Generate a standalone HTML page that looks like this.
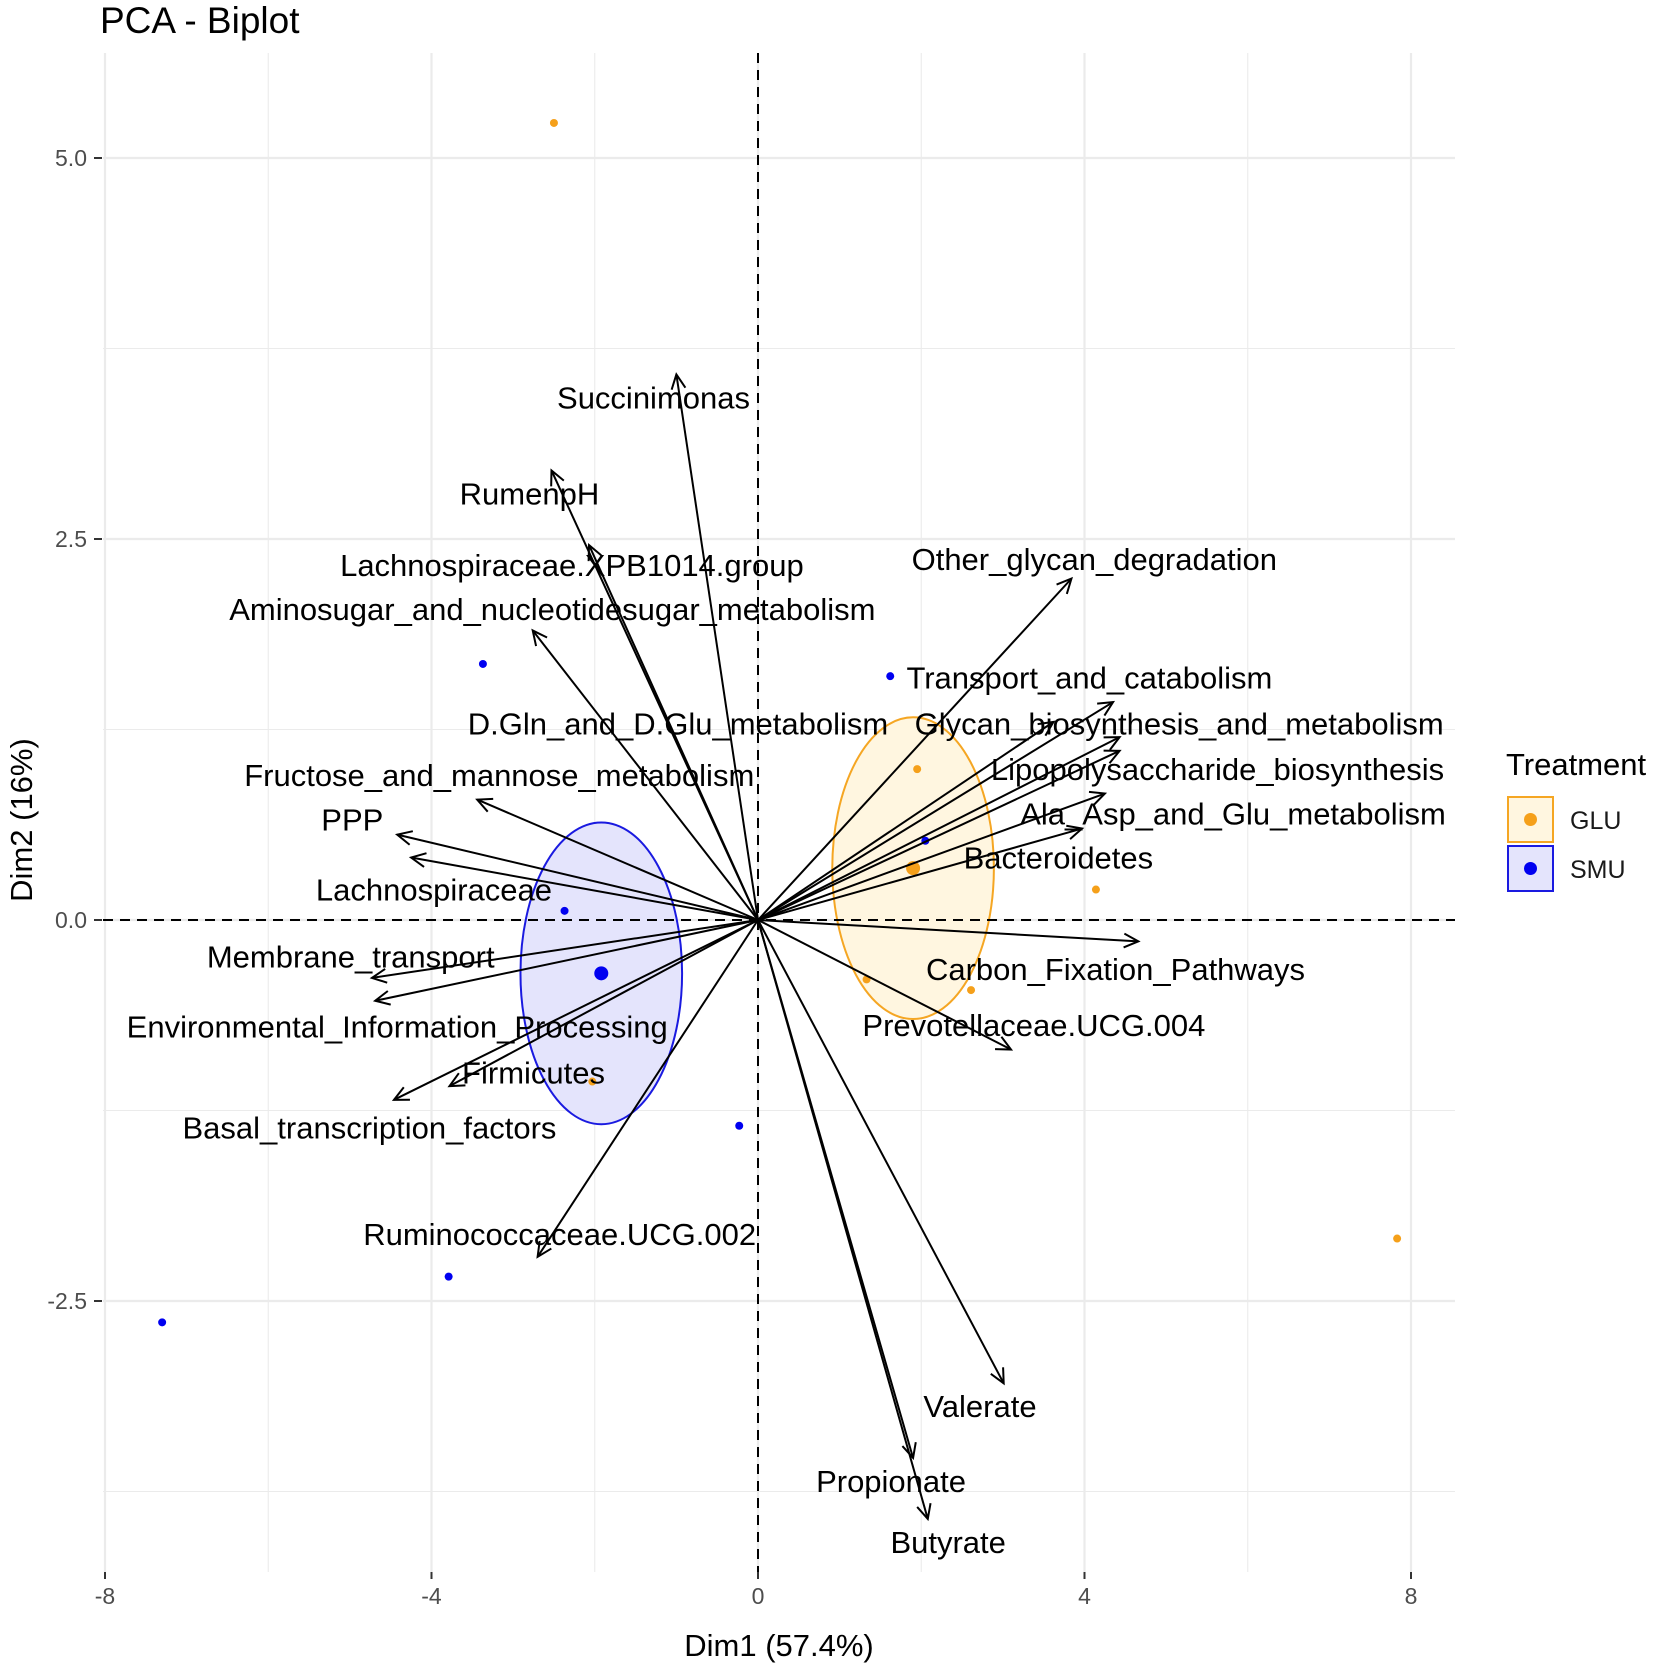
<!DOCTYPE html>
<html><head><meta charset="utf-8"><style>
html,body{margin:0;padding:0;background:#fff}
svg{display:block;font-family:"Liberation Sans",sans-serif}
</style></head><body>
<svg id="chart" width="1654" height="1669" viewBox="0 0 1654 1669" xmlns="http://www.w3.org/2000/svg">
<text x="100" y="33" font-size="37" fill="#000">PCA - Biplot</text>
<g id="grid"></g><g id="marks"></g><g id="axes"></g>
<text x="779" y="1656" font-size="31" text-anchor="middle" fill="#000">Dim1 (57.4%)</text>
<text transform="translate(32,820) rotate(-90)" font-size="31" text-anchor="middle" fill="#000">Dim2 (16%)</text>
<g>
<text x="1506" y="775" font-size="31" fill="#000">Treatment</text>
<g>
<rect x="1508" y="797" width="45" height="45" fill="#FFF6E0" stroke="#F5A623" stroke-width="2"/>
<circle cx="1530.5" cy="819.5" r="6.5" fill="#F5A01A"/>
<text x="1570" y="829" font-size="25" fill="#1a1a1a">GLU</text></g>
<g>
<rect x="1508" y="846" width="45" height="45" fill="#E4E4FC" stroke="#1a1ae0" stroke-width="2"/>
<circle cx="1530.5" cy="868.5" r="6.5" fill="#0000F0"/>
<text x="1570" y="878" font-size="25" fill="#1a1a1a">SMU</text></g>
</g>
</svg>
<script>
const xTicks=[-8,-4,0,4,8];
const yTicks=[-2.5,0.0,2.5,5.0];
const varNames=["Succinimonas","RumenpH","Lachnospiraceae.XPB1014.group","Aminosugar_and_nucleotidesugar_metabolism","Other_glycan_degradation","Transport_and_catabolism","D.Gln_and_D.Glu_metabolism","Glycan_biosynthesis_and_metabolism","Lipopolysaccharide_biosynthesis","Ala_Asp_and_Glu_metabolism","Bacteroidetes","Fructose_and_mannose_metabolism","PPP","Lachnospiraceae","Membrane_transport","Environmental_Information_Processing","Firmicutes","Basal_transcription_factors","Ruminococcaceae.UCG.002","Carbon_Fixation_Pathways","Prevotellaceae.UCG.004","Valerate","Propionate","Butyrate"];
const varX=[-1.00,-2.53,-2.07,-2.76,3.84,4.35,3.62,4.43,4.43,4.25,3.97,-3.44,-4.42,-4.25,-4.73,-4.69,-3.78,-4.46,-2.70,4.66,3.10,3.01,1.90,2.08];
const varY=[3.58,2.95,2.46,1.90,2.24,1.43,1.30,1.20,1.11,0.83,0.60,0.79,0.56,0.41,-0.38,-0.53,-1.09,-1.18,-2.21,-0.14,-0.85,-3.04,-3.53,-3.93];
const labX=[-1.28,-2.80,-2.28,-2.52,4.12,4.06,-0.98,5.16,5.63,5.82,3.68,-3.17,-4.97,-3.97,-4.99,-4.42,-2.75,-4.76,-2.43,4.38,3.38,2.72,1.63,2.33];
const labY=[3.43,2.80,2.33,2.04,2.37,1.59,1.29,1.29,0.99,0.70,0.41,0.95,0.66,0.20,-0.24,-0.70,-1.00,-1.36,-2.06,-0.32,-0.69,-3.19,-3.68,-4.08];
const gluX=[-2.50,1.95,4.14,1.33,2.61,-2.03,7.83];
const gluY=[5.23,0.99,0.20,-0.39,-0.46,-1.06,-2.09];
const smuX=[-3.37,1.62,2.05,-2.37,-0.23,-3.79,-7.30];
const smuY=[1.68,1.60,0.52,0.06,-1.35,-2.34,-2.64];
const groupMeanX=[1.90,-1.92];
const groupMeanY=[0.34,-0.35];
const groupRadX=[0.99,0.99];
const groupRadY=[0.99,0.99];

const NS="http://www.w3.org/2000/svg";
const X0=103,X1=1455,Y0=53,Y1=1572;
const YS=152.4;
const xs=v=>758+v*81.625;
const ys=v=>920-v*YS;
function mk(parent,tag,attrs){const e=document.createElementNS(NS,tag);for(const k in attrs)e.setAttribute(k,attrs[k]);parent.appendChild(e);return e;}
const grid=document.getElementById('grid'),marks=document.getElementById('marks'),axes=document.getElementById('axes');
for(let v=-8;v<=8;v+=2){const g=mk(grid,'line',{x1:xs(v),x2:xs(v),y1:Y0,y2:Y1,stroke:'#ebebeb','stroke-width':v%4===0?2.2:1.1});

}
for(let v=-3.75;v<=5.5;v+=1.25){const g=mk(grid,'line',{x1:X0,x2:X1,y1:ys(v),y2:ys(v),stroke:'#ebebeb','stroke-width':Math.abs(v/2.5-Math.round(v/2.5))<1e-6?2.2:1.1});

}
xTicks.forEach(v=>{const t=mk(axes,'line',{x1:xs(v),x2:xs(v),y1:Y1,y2:Y1+7,stroke:'#333','stroke-width':2});


const l=mk(axes,'text',{x:xs(v),y:Y1+32,'font-size':23,'text-anchor':'middle',fill:'#4d4d4d'});l.textContent=String(v);

});
yTicks.forEach(v=>{const t=mk(axes,'line',{x1:X0-9,x2:X0-1,y1:ys(v),y2:ys(v),stroke:'#333','stroke-width':2});


const l=mk(axes,'text',{x:X0-16,y:ys(v)+8,'font-size':23,'text-anchor':'end',fill:'#4d4d4d'});l.textContent=v.toFixed(1);

});
const fills=['#FFF6E0','#E4E4FC'],strokes=['#F5A623','#1a1ae0'],ptc=['#F5A01A','#0000F0'];
groupMeanX.forEach((m,i)=>{const e=mk(marks,'ellipse',{cx:xs(m),cy:ys(groupMeanY[i]),rx:groupRadX[i]*81.625,ry:groupRadY[i]*YS,fill:fills[i],stroke:strokes[i],'stroke-width':2});

});
const zx=mk(marks,'line',{x1:X0,x2:X1,y1:ys(0),y2:ys(0),stroke:'#000','stroke-width':2,'stroke-dasharray':'10,7'});


const zy=mk(marks,'line',{x1:xs(0),x2:xs(0),y1:Y0,y2:Y1,stroke:'#000','stroke-width':2,'stroke-dasharray':'10,7'});


[[gluX,gluY,0],[smuX,smuY,1]].forEach(([px,py,i])=>{px.forEach((v,j)=>{const c=mk(marks,'circle',{cx:xs(v),cy:ys(py[j]),r:4,fill:ptc[i]});

});});
groupMeanX.forEach((m,i)=>{const c=mk(marks,'circle',{cx:xs(m),cy:ys(groupMeanY[i]),r:7,fill:ptc[i]});

});
varX.forEach((vx,i)=>{const x1=xs(0),y1=ys(0),x2=xs(vx),y2=ys(varY[i]);
const g=mk(marks,'g',{});


mk(g,'line',{x1,y1,x2,y2,stroke:'#000','stroke-width':2});
const a=Math.atan2(y2-y1,x2-x1),L=16,w=0.45;
mk(g,'polyline',{points:`${x2-L*Math.cos(a-w)},${y2-L*Math.sin(a-w)} ${x2},${y2} ${x2-L*Math.cos(a+w)},${y2-L*Math.sin(a+w)}`,fill:'none',stroke:'#000','stroke-width':2});});
varNames.forEach((n,i)=>{const t=mk(marks,'text',{x:xs(labX[i]),y:ys(labY[i])+11,'font-size':31,'text-anchor':'middle',fill:'#000'});t.textContent=n;

});
</script>
</body></html>
